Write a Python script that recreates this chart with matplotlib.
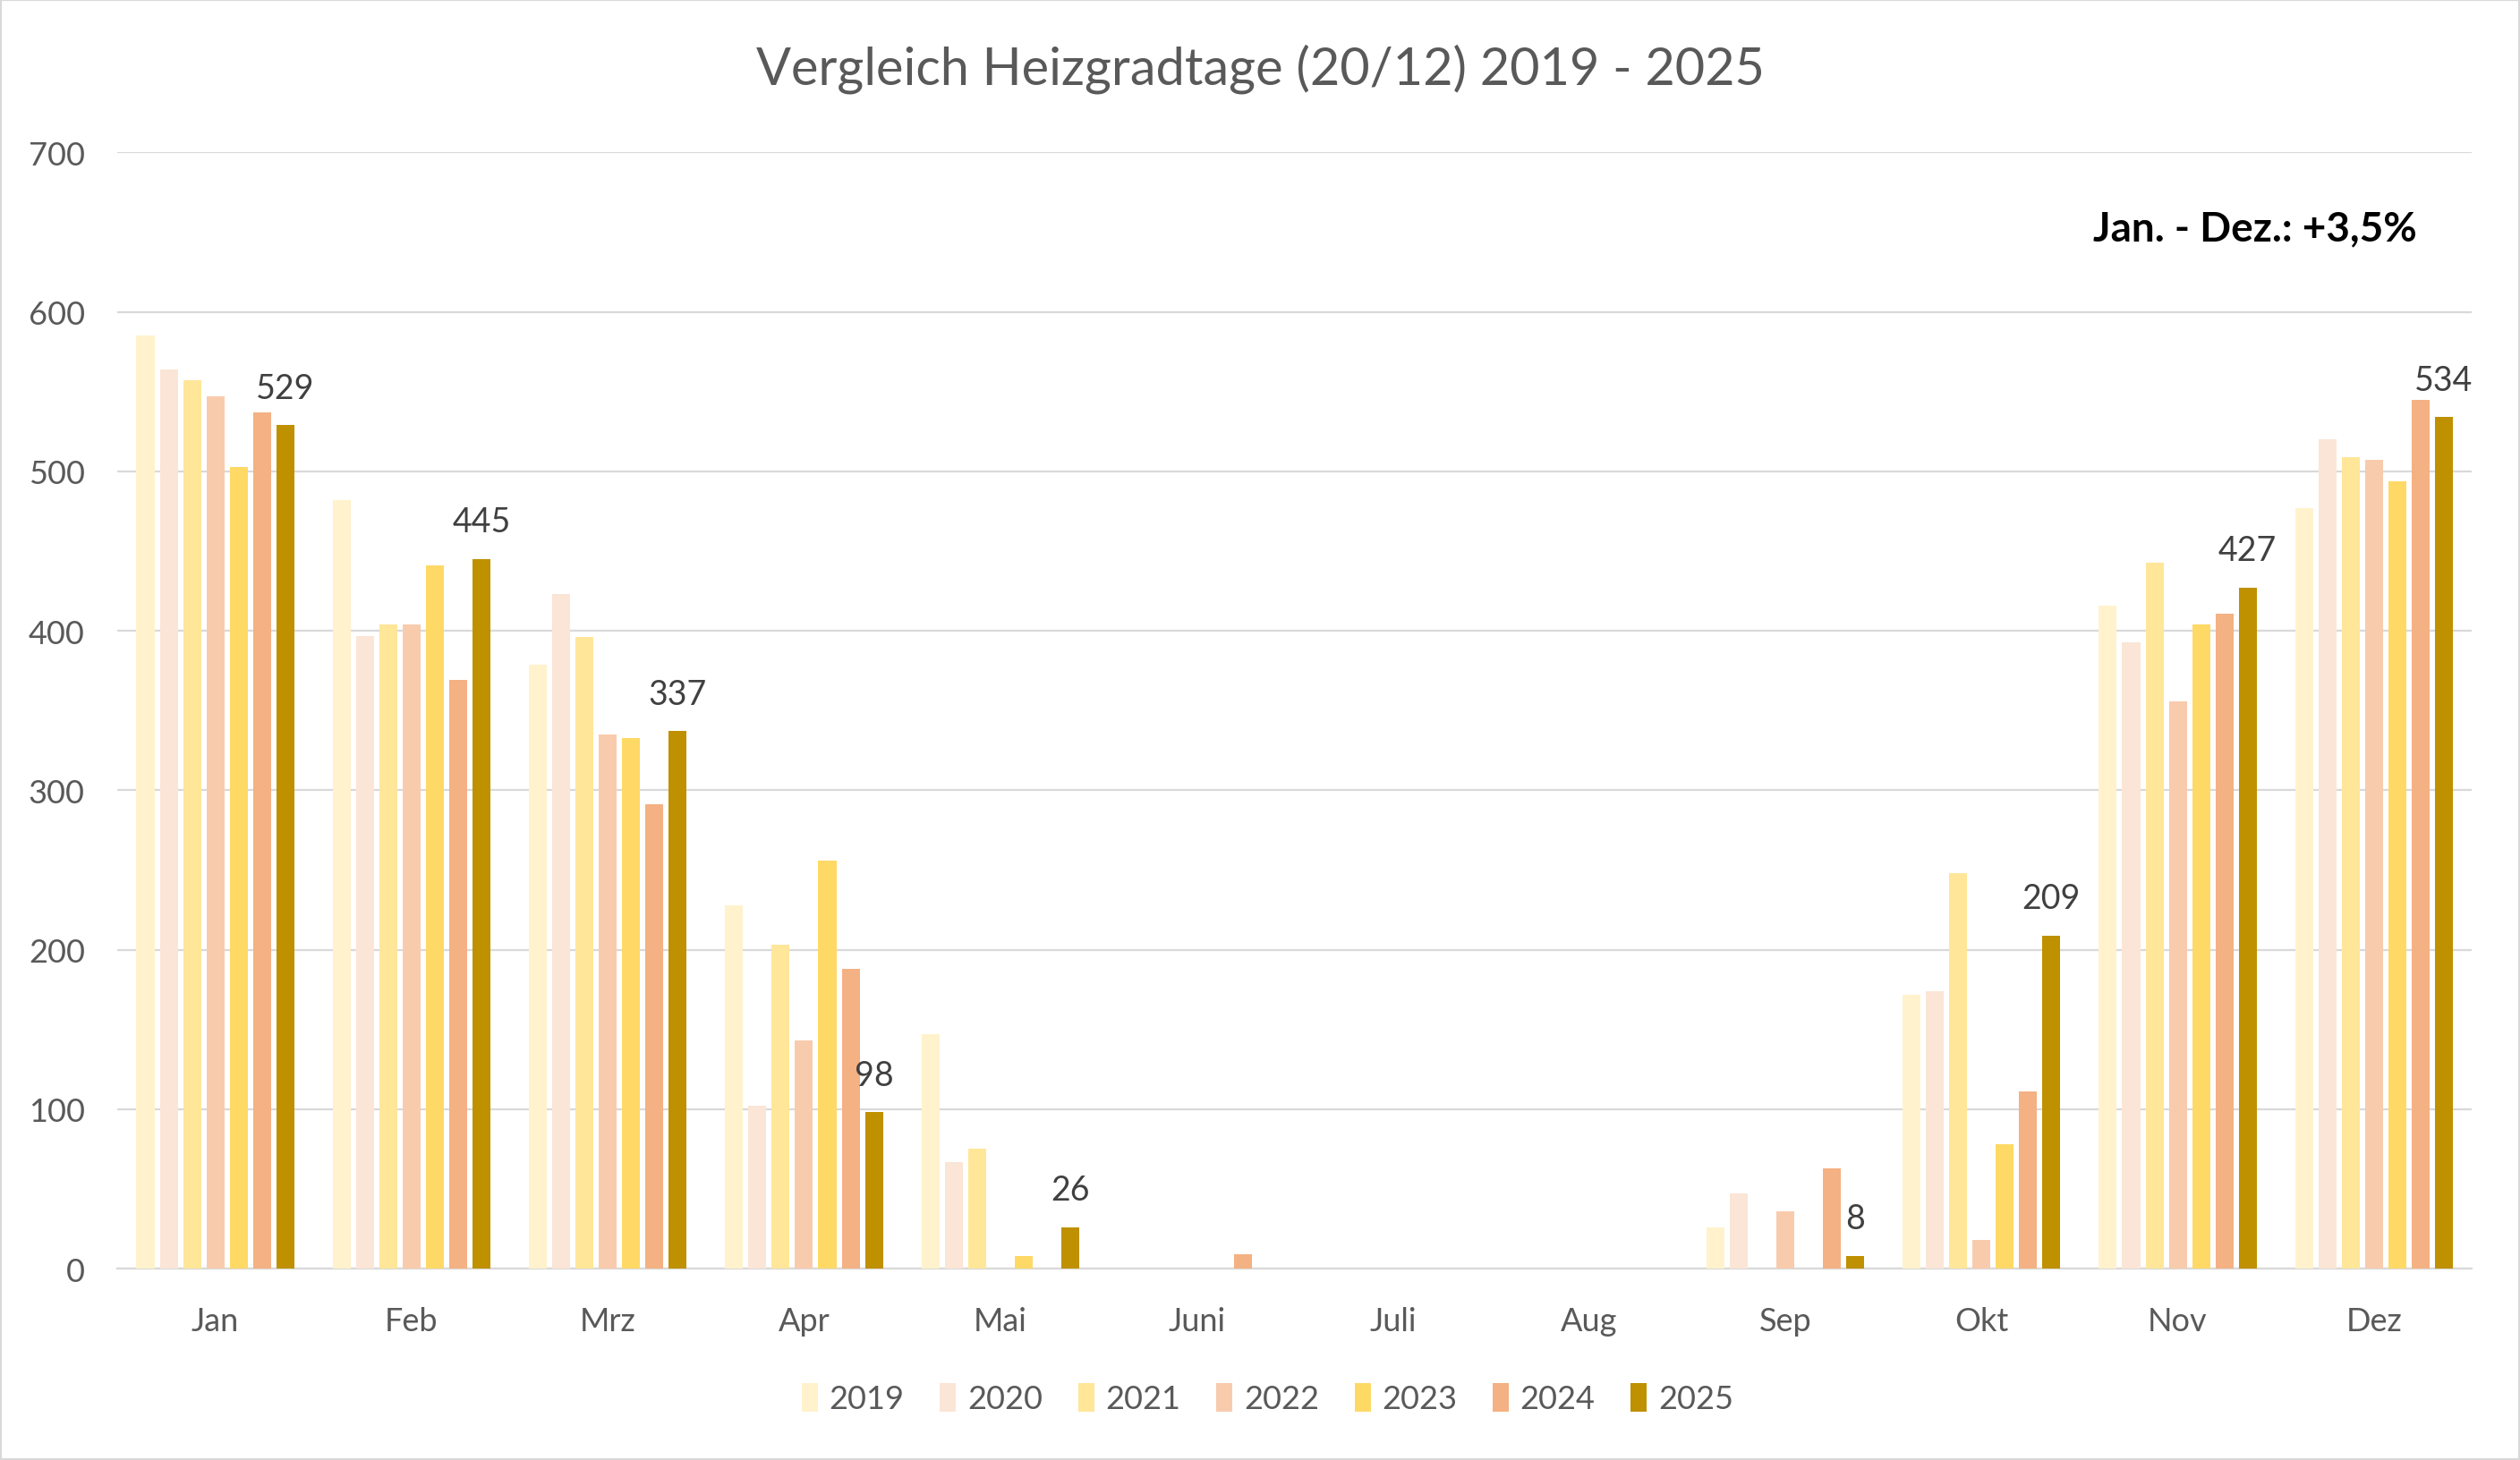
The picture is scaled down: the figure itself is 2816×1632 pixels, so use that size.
import matplotlib.pyplot as plt
import numpy as np
from matplotlib.patches import Rectangle

plt.rcParams['font.family'] = ['Lato', 'DejaVu Sans']

# Monate und Heizgradtage je Jahr
monate = ['Jan', 'Feb', 'Mrz', 'Apr', 'Mai', 'Juni', 'Juli', 'Aug', 'Sep', 'Okt', 'Nov', 'Dez']
jahre = ['2019', '2020', '2021', '2022', '2023', '2024', '2025']

hgt_2019 = [585, 482, 379, 228, 147, 0, 0, 0, 26, 172, 416, 477]
hgt_2020 = [564, 397, 423, 102, 67, 0, 0, 0, 47, 174, 393, 520]
hgt_2021 = [557, 404, 396, 203, 75, 0, 0, 0, 0, 248, 443, 509]
hgt_2022 = [547, 404, 335, 143, 0, 0, 0, 0, 36, 18, 356, 507]
hgt_2023 = [503, 441, 333, 256, 8, 0, 0, 0, 0, 78, 404, 494]
hgt_2024 = [537, 369, 291, 188, 0, 9, 0, 0, 63, 111, 411, 545]
hgt_2025 = [529, 445, 337, 98, 26, 0, 0, 0, 8, 209, 427, 534]

werte = [hgt_2019, hgt_2020, hgt_2021, hgt_2022, hgt_2023, hgt_2024, hgt_2025]
farben = ['#FFF2CC', '#FBE5D6', '#FFE699', '#F8CBAD', '#FFD966', '#F4B183', '#BF9000']

fig = plt.figure(figsize=(28.16, 16.33), dpi=100)
ax = fig.add_axes([0.0465, 0.131, 0.9345, 0.764])

x = np.arange(len(monate))
w = 0.0913
pitch = 1.3 * w

for i, (jahr, v) in enumerate(zip(jahre, werte)):
    off = (i - 3) * pitch
    ax.bar(x + off, v, width=w, color=farben[i], label=jahr, zorder=3)
    if jahr == '2025':
        # nur 2025 bekommt Datenbeschriftungen
        for xi, val in zip(x + off, v):
            if val > 0:
                ax.annotate(str(val), (xi, val), xytext=(0, 22), textcoords='offset points',
                            ha='center', va='baseline', fontsize=27, color='#404040')

ax.set_xlim(-0.5, 11.5)
ax.set_ylim(0, 700)
ax.set_yticks(range(0, 701, 100))
ax.set_xticks(x)
ax.set_xticklabels(monate)
ax.tick_params(axis='both', length=0, labelsize=26, labelcolor='#595959')
ax.tick_params(axis='y', pad=26)
ax.tick_params(axis='x', pad=30)
ax.grid(axis='y', color='#D9D9D9', linewidth=1.6, zorder=0)
for s in ['top', 'right', 'left']:
    ax.spines[s].set_visible(False)
ax.spines['bottom'].set_color('#D9D9D9')
ax.spines['bottom'].set_linewidth(1.6)

fig.text(0.5, 0.953, 'Vergleich Heizgradtage (20/12) 2019 - 2025', ha='center', va='center',
         fontsize=41.5, color='#595959')
fig.text(0.959, 0.843, 'Jan. - Dez.: +3,5%', ha='right', va='center', fontsize=33,
         fontweight='bold', color='black')

fig.legend(loc='center', bbox_to_anchor=(0.503, 0.042), ncol=7, frameon=False,
           fontsize=26, labelcolor='#595959', handlelength=0.5, handleheight=0.95,
           handletextpad=0.35, columnspacing=1.1)

fig.add_artist(Rectangle((0, 0), 1, 1, transform=fig.transFigure, fill=False,
                         edgecolor='#D9D9D9', linewidth=3))

fig.savefig('out.png', dpi=100)
